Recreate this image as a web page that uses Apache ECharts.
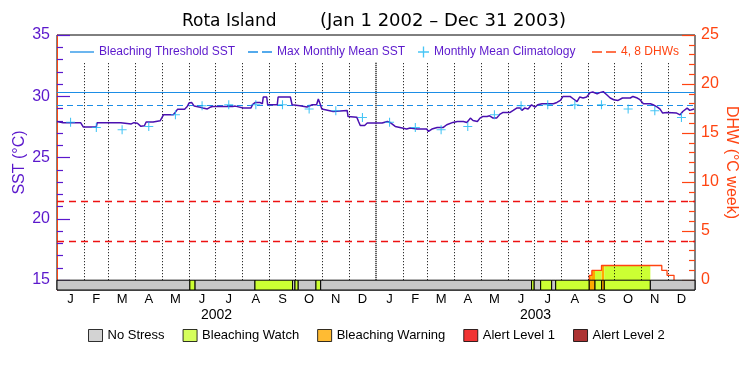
<!DOCTYPE html>
<html><head><meta charset="utf-8">
<script src="https://cdn.jsdelivr.net/npm/echarts@6/dist/echarts.min.js"></script>
<style>html,body{margin:0;padding:0;background:#fff}#c{width:750px;height:375px}</style>
</head><body><div id="c"></div>
<script>
// ---------------- data ----------------
const monthLetters = ['J','F','M','A','M','J','J','A','S','O','N','D'];
const years = ['2002','2003'];
const sstAxis = {min:15, max:35, step:5, minorSplit:5};
const dhwAxis = {min:0, max:25, step:5, minorSplit:5};
const bleachingThreshold = 30.3;
const maxMonthlyMean = 29.3;
const dhwLevels = [4, 8];
// days since 2002-01-01
const sstDay = [0,7,27,30,45,46,73,74,85,88,92,96,100,102,110,112,118,120,122,133,136,138,146,149,151,154,157,164,167,172,175,178,201,204,213,222,224,227,232,235,236,240,241,252,253,267,269,278,280,286,287,292,297,299,301,303,304,316,318,332,333,343,345,347,352,355,360,362,364,372,378,381,387,395,400,404,412,423,425,429,435,442,446,453,458,465,469,473,476,481,484,487,492,495,499,503,507,510,518,522,526,530,532,535,539,543,547,550,555,568,572,576,579,587,591,595,598,602,606,610,613,618,621,625,629,633,637,642,647,656,659,664,667,669,671,679,682,687,690,693,698,709,713,716,721,724,729];
const sstVal = [27.95,27.85,27.85,27.5,27.5,27.85,27.85,27.78,27.75,27.85,27.8,27.55,27.6,27.9,27.9,28.0,28.0,28.15,28.5,28.5,28.75,28.95,28.95,29.17,29.45,29.5,29.2,29.1,29.05,28.97,29.1,29.17,29.17,29.2,29.05,29.05,29.35,29.5,29.5,29.39,29.94,29.94,29.31,29.31,29.94,29.94,29.31,29.23,29.12,29.12,28.96,29.31,29.31,29.78,29.39,28.96,28.85,28.76,28.85,28.85,28.35,28.3,27.95,27.62,27.62,27.82,27.82,27.68,27.82,27.82,27.95,27.87,27.54,27.41,27.33,27.41,27.33,27.33,27.13,27.33,27.46,27.46,27.68,27.87,27.95,27.95,27.87,28.22,28.03,27.95,28.22,28.35,28.35,28.41,28.22,28.22,28.55,28.67,28.67,28.85,29.04,29.04,28.85,29.04,28.96,29.31,29.12,29.31,29.39,29.39,29.5,29.66,29.99,29.99,29.78,29.56,29.94,29.86,29.94,30.3,30.35,30.2,30.3,30.38,30.13,29.86,29.72,29.66,29.86,29.86,29.99,29.86,29.72,29.66,29.39,29.39,29.31,29.12,28.96,28.63,28.67,28.63,28.49,28.76,29.04,28.85,28.96];
// monthly mean climatology, Jan 2002 .. Dec 2003
const climVal = [27.89,27.46,27.27,27.54,28.49,29.23,29.31,29.31,29.31,28.96,28.82,28.27,
                 27.89,27.46,27.27,27.54,28.49,29.23,29.31,29.31,29.31,28.96,28.82,28.27];
// degree heating weeks (step changes)
const dhwDay = [609,612,623,692,698,706];
const dhwVal = [0.5,1.0,1.5,1.0,0.5,0];
// stress level periods (0 none, 1 watch, 2 warning, 3 alert1, 4 alert2)
const stressStart = [0,152,158,226.5,269.5,272.3,276,296.3,301.7,543,546,553.4,566,570.6,609,615.6,623.2,626.2,678.9];
const stressEnd   = [152,158,226.5,269.5,272.3,276,296.3,301.7,543,546,553.4,566,570.6,609,615.6,623.2,626.2,678.9,730];
const stressLevel = [0,1,0,1,0,1,0,1,0,1,0,1,0,1,2,1,2,1,0];
const stressNames = ['No Stress','Bleaching Watch','Bleaching Warning','Alert Level 1','Alert Level 2'];

// ---------------- styles ----------------
const PUR = '#5b18cc', SSTC = '#4a10b0', BLUE = '#1d8ee6', CYAN = '#19b6f2', ORG = '#ff4411', RED = '#ee1111';
const stressColors = ['#c8c8c8','#ccff33','#ffaa00','#ee0000','#990000'];
const FONT = 'Liberation Sans';
const SST_MIN = 14.2, SST_MAX = 35, DHW_MIN = -1, DHW_MAX = 25, BAR_TOP = 15, LINE_TOP = 32.8;
const LINE_ICON = 'path://M0,0H24V1.3H0Z';
const DASH_ICON = 'path://M0,0H10V1.3H0ZM14,0H24V1.3H14Z';
const PLUS = 'path://M4.4,0H5.6V4.4H10V5.6H5.6V10H4.4V5.6H0V4.4H4.4Z';

// ---------------- derived ----------------
const day0 = Date.UTC(2002,0,1);
const monthStart = [];
for (let y = 2002; y <= 2003; y++) for (let m = 0; m < 12; m++) monthStart.push((Date.UTC(y,m,1)-day0)/864e5);
monthStart.push((Date.UTC(2004,0,1)-day0)/864e5);
const TOTAL = monthStart[24];
const monthMid = monthStart.slice(0,24).map((d,i)=>(d+monthStart[i+1])/2);
const yearMid = [ (monthStart[0]+monthStart[12])/2, (monthStart[12]+monthStart[24])/2 ];

const sstData = sstDay.map((d,i)=>[d, sstVal[i]]);
const climData = climVal.map((v,i)=>[monthMid[i], v]);
const dhwLine = [[dhwDay[0],0]].concat(dhwDay.map((d,i)=>[d, dhwVal[i]]));
const stressData = stressStart.map((s,i)=>[s, stressEnd[i], stressLevel[i]]);
const fillData = [];
for (let i = 0; i < stressStart.length; i++) {
  if (!stressLevel[i]) continue;
  for (let j = 0; j < dhwDay.length-1; j++) {
    const s = Math.max(stressStart[i], dhwDay[j]), e = Math.min(stressEnd[i], dhwDay[j+1]);
    if (e > s && dhwVal[j] > 0) fillData.push([s, e, dhwVal[j], stressLevel[i]]);
  }
}
const gridLines = monthStart.slice(1,24).map(d => [
  {coord:[d, BAR_TOP], lineStyle: d === monthStart[12] ? {type:[1,1], width:1.5, color:'#000'} : undefined},
  {coord:[d, LINE_TOP]}
]);

const chart = echarts.init(document.getElementById('c'), null, {renderer:'canvas'});
const legText = (c, s)=>({color:c, fontSize:s||12, fontFamily:FONT});
const tickAxis = (pos, ax, color, margin) => ({
  type:'value', gridIndex:1, position:pos, min:ax.min, max:ax.max, interval:ax.step,
  splitLine:{show:false}, axisLine:{show:false},
  axisTick:{show:true, inside:true, length:13, lineStyle:{color:color, width:1.2}},
  minorTick:{show:true, splitNumber:ax.minorSplit, length:6, lineStyle:{color:color, width:1.2}},
  axisLabel:{color:color, fontSize:16, fontFamily:FONT, margin:margin}
});
const hLine = (v, color, type, w) => ({yAxis:v, lineStyle:{color:color, type:type, width:w}});
chart.setOption({
  animation:false,
  title:[
    {text:'Rota Island', left:182, top:13, padding:0, textStyle:{fontSize:17, fontWeight:'normal', fontFamily:'DejaVu Sans', color:'#000'}},
    {text:'(Jan 1 2002 \u2013 Dec 31 2003)', left:320, top:12, padding:0, textStyle:{fontSize:18, fontWeight:'normal', fontFamily:'DejaVu Sans', color:'#000'}}
  ],
  grid:[
    {left:57, right:55, top:35, bottom:85, show:true, borderColor:'#000', borderWidth:1},
    {left:57, right:55, top:35, bottom:95, show:false}
  ],
  legend:[
    {data:[{name:'Bleaching Threshold SST', icon:LINE_ICON}], left:70, top:46, padding:0, itemWidth:24, itemHeight:10,
     itemStyle:{color:BLUE, borderWidth:0}, textStyle:legText(PUR)},
    {data:[{name:'Max Monthly Mean SST', icon:DASH_ICON}], left:248, top:46, padding:0, itemWidth:24, itemHeight:10,
     itemStyle:{color:BLUE, borderWidth:0}, textStyle:legText(PUR)},
    {data:[{name:'Monthly Mean Climatology', icon:PLUS}], left:418, top:46, padding:0, itemWidth:11, itemHeight:11,
     itemStyle:{color:CYAN, borderWidth:0}, textStyle:legText(PUR)},
    {data:[{name:'4, 8 DHWs', icon:DASH_ICON}], left:592, top:46, padding:0, itemWidth:24, itemHeight:10,
     itemStyle:{color:ORG, borderWidth:0}, textStyle:legText(ORG)},
    {data:stressNames, left:88, top:329, padding:0, itemWidth:14, itemHeight:12, itemGap:18, icon:'rect',
     itemStyle:{borderColor:'#000', borderWidth:1}, textStyle:legText('#000', 13)}
  ],
  xAxis:[
    {type:'value', position:'bottom', min:0, max:TOTAL, axisLine:{show:false}, axisTick:{show:false}, splitLine:{show:false},
     axisLabel:{customValues:monthMid, margin:3, color:'#000', fontSize:13, fontFamily:FONT,
       formatter:(v)=>{ const i = monthMid.findIndex(m=>Math.abs(m-v)<0.01); return i<0?'':monthLetters[i%12]; }}},
    {type:'value', position:'bottom', min:0, max:TOTAL, axisLine:{show:false}, axisTick:{show:false}, splitLine:{show:false},
     axisLabel:{customValues:yearMid, margin:18, color:'#000', fontSize:14, fontFamily:FONT,
       formatter:(v)=>{ const i = yearMid.findIndex(m=>Math.abs(m-v)<0.01); return i<0?'':years[i]; }}},
    {type:'value', gridIndex:1, min:0, max:TOTAL, show:false}
  ],
  yAxis:[
    {type:'value', position:'left', min:SST_MIN, max:SST_MAX, splitLine:{show:false},
     axisLine:{show:true, lineStyle:{color:PUR, width:1}}, axisTick:{show:false}, axisLabel:{show:false},
     name:'SST (\u00B0C)', nameLocation:'middle', nameGap:29, nameTextStyle:{color:PUR, fontSize:16, fontFamily:FONT}},
    {type:'value', position:'right', min:DHW_MIN, max:DHW_MAX, splitLine:{show:false},
     axisLine:{show:true, lineStyle:{color:ORG, width:1}}, axisTick:{show:false}, axisLabel:{show:false},
     name:'DHW (\u00B0C week)', nameLocation:'middle', nameGap:28, nameRotate:-90, nameTextStyle:{color:ORG, fontSize:16, fontFamily:FONT}},
    tickAxis('left', sstAxis, PUR, 7),
    tickAxis('right', dhwAxis, ORG, 6)
  ],
  series:[
    {name:'monthgrid', type:'line', data:[], xAxisIndex:0, yAxisIndex:0, silent:true, z:1,
     markLine:{silent:true, symbol:['none','none'], label:{show:false}, lineStyle:{color:'#000', type:[1,2], width:1}, data:gridLines}},
    {name:'Bleaching Threshold SST', type:'line', data:[], symbol:'none', color:BLUE, lineStyle:{color:BLUE, width:1, type:'solid'}, z:2,
     markLine:{silent:true, symbol:['none','none'], label:{show:false}, lineStyle:{color:BLUE, width:1, type:'solid'},
       data:[hLine(bleachingThreshold, BLUE, 'solid', 1)]}},
    {name:'Max Monthly Mean SST', type:'line', data:[], symbol:'none', color:BLUE, lineStyle:{color:BLUE, width:1, type:[6,4]}, z:2,
     markLine:{silent:true, symbol:['none','none'], label:{show:false}, lineStyle:{color:BLUE, width:1, type:[6,4]},
       data:[hLine(maxMonthlyMean, BLUE, [6,4], 1.2)]}},
    {name:'4, 8 DHWs', type:'line', data:[], yAxisIndex:1, symbol:'none', color:ORG, lineStyle:{color:RED, width:1, type:[7,5]}, z:2,
     markLine:{silent:true, symbol:['none','none'], label:{show:false}, lineStyle:{color:RED, width:1.3, type:[7,5]},
       data:dhwLevels.map(v=>hLine(v, RED, [7,5], 1.3))}},
    {name:'dhwfill', type:'custom', yAxisIndex:1, data:fillData, z:3, silent:true, encode:{x:[0,1], y:2},
     renderItem:(p, api)=>{
       const a = api.coord([api.value(0), api.value(2)]), b = api.coord([api.value(1), 0]);
       return {type:'rect', shape:{x:a[0], y:a[1], width:b[0]-a[0], height:b[1]-a[1]}, style:{fill:stressColors[api.value(3)]}};
     }},
    {name:'dhw', type:'line', yAxisIndex:1, data:dhwLine, step:'end', symbol:'none', z:4, silent:true,
     lineStyle:{color:ORG, width:1.3}},
    {name:'stress', type:'custom', data:stressData, z:5, silent:true, encode:{x:[0,1]},
     renderItem:(p, api)=>{
       const a = api.coord([api.value(0), BAR_TOP]), b = api.coord([api.value(1), SST_MIN]);
       return {type:'rect', shape:{x:a[0], y:a[1], width:b[0]-a[0], height:b[1]-a[1]}, style:{fill:stressColors[api.value(2)], stroke:'#000', lineWidth:1}};
     }},
    {name:'SST', type:'line', data:sstData, symbol:'none', z:6, silent:true, lineStyle:{color:SSTC, width:1.5}},
    {name:'Monthly Mean Climatology', type:'scatter', data:climData, z:7, silent:true, color:CYAN,
     symbol:PLUS, symbolSize:9, itemStyle:{color:CYAN}},
  ].concat(stressNames.map((n,i)=>({name:n, type:'scatter', data:[], color:stressColors[i], itemStyle:{color:stressColors[i]}})))
});
</script></body></html>
